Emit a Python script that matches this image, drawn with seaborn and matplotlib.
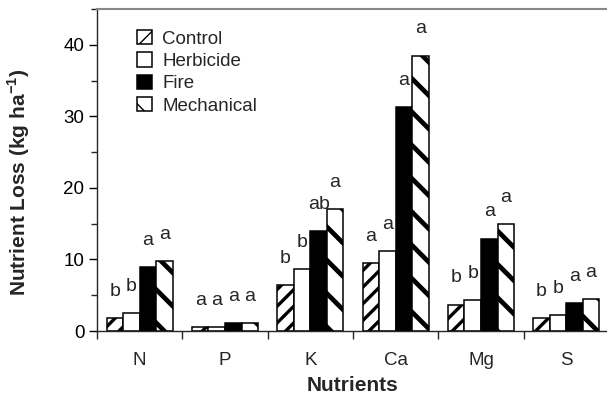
import matplotlib
matplotlib.use("Agg")
import matplotlib.pyplot as plt
from matplotlib.patches import Patch
from matplotlib.ticker import MultipleLocator, FixedLocator
import seaborn as sns
import pandas as pd

nutrients = ["N", "P", "K", "Ca", "Mg", "S"]
treatments = ["Control", "Herbicide", "Fire", "Mechanical"]
control = [1.75, 0.55, 6.45, 9.5, 3.7, 1.75]
herbicide = [2.5, 0.55, 8.7, 11.2, 4.3, 2.25]
fire = [8.95, 1.1, 14.0, 31.3, 12.9, 3.95]
mechanical = [9.75, 1.1, 17.0, 38.5, 14.9, 4.45]
letters = {
    "Control": ["b", "a", "b", "a", "b", "b"],
    "Herbicide": ["b", "a", "b", "a", "b", "b"],
    "Fire": ["a", "a", "ab", "a", "a", "a"],
    "Mechanical": ["a", "a", "a", "a", "a", "a"],
}

series = {"Control": control, "Herbicide": herbicide, "Fire": fire, "Mechanical": mechanical}
rows = []
for t in treatments:
    for n, v in zip(nutrients, series[t]):
        rows.append({"Nutrient": n, "Treatment": t, "Loss": v})
df = pd.DataFrame(rows)

sns.set_style("ticks")
plt.rcParams["font.family"] = ["Liberation Sans", "DejaVu Sans"]
plt.rcParams["mathtext.fontset"] = "custom"
plt.rcParams["mathtext.rm"] = "Liberation Sans"
plt.rcParams["mathtext.bf"] = "Liberation Sans:bold"
plt.rcParams["hatch.color"] = "black"

fills = {"Control": "white", "Herbicide": "white", "Fire": "black", "Mechanical": "white"}
hatches = {"Control": "//", "Herbicide": "", "Fire": "", "Mechanical": "\\"}
hatch_lw = {"Control": 2.4, "Herbicide": 1.0, "Fire": 1.0, "Mechanical": 3.4}

fig = plt.figure(figsize=(6.07, 4.04), dpi=100)
ax = fig.add_axes([97 / 607, 1 - 331 / 404, 512 / 607, 322 / 404])

sns.barplot(data=df, x="Nutrient", y="Loss", hue="Treatment", order=nutrients,
            hue_order=treatments, palette=fills, width=0.774, gap=0,
            edgecolor="black", linewidth=1.1, saturation=1, legend=False, ax=ax)

for cont, t in zip(ax.containers, treatments):
    for bar, lab in zip(cont, letters[t]):
        bar.set_hatch(hatches[t])
        if hasattr(bar, "set_hatch_linewidth"):
            bar.set_hatch_linewidth(hatch_lw[t])
        x = bar.get_x() + bar.get_width() / 2
        ax.annotate(lab, (x, bar.get_height()), xytext=(0, 16),
                    textcoords="offset points", ha="center", va="baseline",
                    fontsize=14)

ax.set_xlim(-0.5, 5.5)
ax.set_ylim(0, 45)
ax.yaxis.set_major_locator(FixedLocator([0, 10, 20, 30, 40]))
ax.yaxis.set_minor_locator(MultipleLocator(5))
ax.xaxis.set_minor_locator(FixedLocator([i - 0.5 for i in range(7)]))
ax.tick_params(axis="y", which="major", length=6, width=1, labelsize=13.5, pad=3, colors="black")
ax.tick_params(axis="y", which="minor", length=4, width=1)
ax.tick_params(axis="x", which="major", length=0, labelsize=13.5, pad=15)
ax.tick_params(axis="x", which="minor", length=6, width=1)

for side in ["left", "bottom", "top"]:
    ax.spines[side].set_visible(True)
    ax.spines[side].set_linewidth(1.0)
ax.spines["top"].set_color("#888888")
ax.spines["top"].set_linewidth(1.5)
ax.spines["right"].set_visible(False)

ax.set_xlabel("Nutrients", fontsize=15, fontweight="bold")
ax.xaxis.set_label_coords(0.5, -(376 - 331) / 322)
ax.set_ylabel(r"Nutrient Loss (kg ha$^{\mathbf{-1}}$)", fontsize=15, fontweight="bold")
ax.yaxis.set_label_coords((32 - 97) / 512, (331 - 182) / 322)

handles = []
for t in treatments:
    p = Patch(facecolor=fills[t], edgecolor="black", hatch=hatches[t], linewidth=1.1, label=t)
    if hasattr(p, "set_hatch_linewidth"):
        p.set_hatch_linewidth(hatch_lw[t])
    handles.append(p)
ax.legend(handles=handles, loc="upper left", bbox_to_anchor=(0.078, 0.935),
          frameon=False, fontsize=13.5, handlelength=0.8, handleheight=0.8,
          handletextpad=0.55, labelspacing=0.25, borderpad=0, borderaxespad=0)

fig.savefig("out.png", dpi=100)
